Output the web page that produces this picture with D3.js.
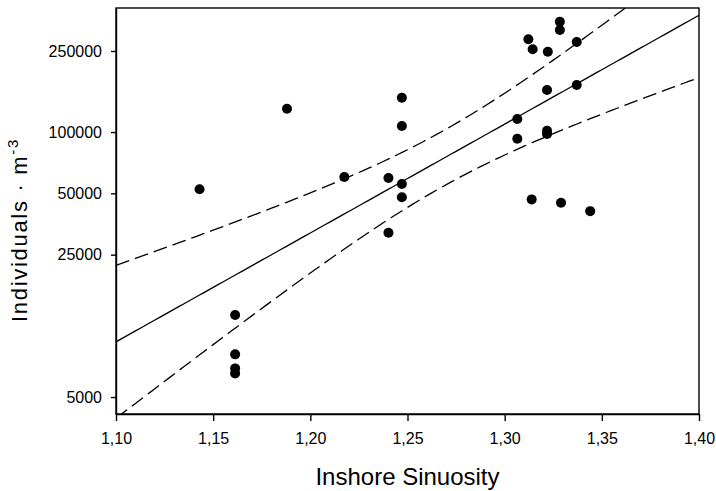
<!DOCTYPE html>
<html><head><meta charset="utf-8">
<script src="https://cdn.jsdelivr.net/npm/d3@7"></script>
<style>body{margin:0;background:#fff}text{font-family:Arial,"Liberation Sans",sans-serif;fill:#000}</style>
</head><body><svg id="c" width="716" height="491"></svg>
<script>
const sinuosity = [1.143,1.188,1.2175,1.3284,1.3284,1.3122,1.3144,1.3222,1.3371,1.2471,1.2471,1.3218,1.3371,1.3065,1.3065,1.3218,1.3218,1.2402,1.2471,1.2471,1.2402,1.3139,1.329,1.344,1.1613,1.1613,1.1613,1.1613];
const individuals = [52400,130200,60100,348000,317000,285500,255000,248000,277000,147500,107000,160800,170200,115900,92700,101500,97800,59500,55600,47800,32000,46700,45000,40900,12630,8100,6910,6530];
const xTicks = [1.10,1.15,1.20,1.25,1.30,1.35,1.40];
const yTicks = [5000,25000,50000,100000,250000];
const xDomain = [1.10,1.40];
const yDomain = [4127,406500];
const tCrit = 2.056;

const L=116,R=699,T=8,B=414;
const svg=d3.select("#c");
const x=d3.scaleLinear().domain(xDomain).range([L,R]);
const y=d3.scaleLog().domain(yDomain).range([B,T]);

// regression on log10(y)
const n=sinuosity.length;
const ly=individuals.map(v=>Math.log10(v));
const mx=d3.mean(sinuosity), my=d3.mean(ly);
let sxx=0,sxy=0,syy=0;
for(let i=0;i<n;i++){const dx=sinuosity[i]-mx,dy=ly[i]-my;sxx+=dx*dx;sxy+=dx*dy;syy+=dy*dy;}
const b=sxy/sxx, a=my-b*mx;
const s=Math.sqrt((syy-sxy*sxy/sxx)/(n-2));
const xs=d3.range(0,121).map(i=>xDomain[0]+(xDomain[1]-xDomain[0])*i/120);
const fit=xs.map(v=>[v,a+b*v]);
const hw=v=>tCrit*s*Math.sqrt(1/n+(v-mx)*(v-mx)/sxx);
const up=xs.map(v=>[v,a+b*v+hw(v)]);
const lo=xs.map(v=>[v,a+b*v-hw(v)]);

svg.append("clipPath").attr("id","pc").append("rect").attr("x",L).attr("y",T).attr("width",R-L).attr("height",B-T);
const line=d3.line().x(d=>x(d[0])).y(d=>y(Math.pow(10,d[1])));
const g=svg.append("g").attr("clip-path","url(#pc)");
g.append("path").attr("d",line(fit)).attr("fill","none").attr("stroke","#000").attr("stroke-width",1.3);
[up,lo].forEach(c=>g.append("path").attr("d",line(c)).attr("fill","none").attr("stroke","#000").attr("stroke-width",1.3).attr("stroke-dasharray","14,6"));

svg.append("g").selectAll("circle").data(d3.range(n)).join("circle")
  .attr("cx",i=>x(sinuosity[i])).attr("cy",i=>y(individuals[i])).attr("r",5).attr("fill","#000");

// frame
svg.append("rect").attr("x",L).attr("y",T).attr("width",R-L).attr("height",B-T).attr("fill","none").attr("stroke","#000").attr("stroke-width",1.4);

const xa=svg.append("g").attr("transform",`translate(0,${B})`)
  .call(d3.axisBottom(x).tickValues(xTicks).tickSize(7).tickSizeOuter(0).tickPadding(12).tickFormat(v=>d3.format(".2f")(v).replace(".",",")));
const ya=svg.append("g").attr("transform",`translate(${L},0)`)
  .call(d3.axisLeft(y).tickValues(yTicks).tickSize(5).tickSizeOuter(0).tickPadding(9).tickFormat(d3.format("d")));
[xa,ya].forEach(a=>{a.select(".domain").attr("stroke-width",1.4);a.selectAll("line").attr("stroke-width",1.4);a.selectAll("text").attr("font-size",16).attr("font-family","Arial, 'Liberation Sans', sans-serif");});

svg.append("text").attr("x",(L+R)/2).attr("y",485).attr("text-anchor","middle").attr("font-size",24).text("Inshore Sinuosity");
const yl=svg.append("text").attr("transform","translate(27,322) rotate(-90)").attr("font-size",22).attr("letter-spacing","1.7px");
yl.append("tspan").text("Individuals · m");
yl.append("tspan").attr("font-size",15).attr("dy",-9).text("-3");
</script></body></html>
